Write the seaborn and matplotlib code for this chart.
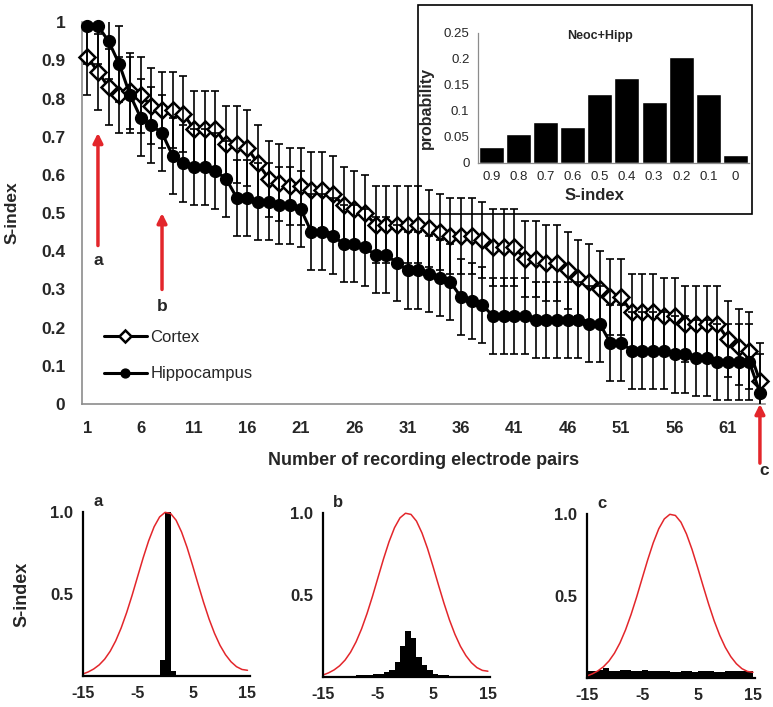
import numpy as np
import matplotlib
matplotlib.use('Agg')
import matplotlib.pyplot as plt
from matplotlib.patches import Rectangle
import seaborn as sns

# main panel: S-index per recording electrode pair
pairs = list(range(1, 65))
cortex = [0.91, 0.87, 0.83, 0.81, 0.82, 0.81, 0.78, 0.77, 0.77, 0.76,
          0.72, 0.72, 0.72, 0.68, 0.68, 0.67, 0.63, 0.59, 0.58, 0.57,
          0.57, 0.56, 0.56, 0.55, 0.52, 0.51, 0.50, 0.47, 0.47, 0.47,
          0.47, 0.47, 0.46, 0.45, 0.44, 0.44, 0.44, 0.43, 0.41, 0.41,
          0.41, 0.38, 0.38, 0.37, 0.37, 0.35, 0.33, 0.32, 0.30, 0.28,
          0.28, 0.24, 0.24, 0.24, 0.23, 0.23, 0.21, 0.21, 0.21, 0.21,
          0.17, 0.15, 0.14, 0.06]
hippocampus = [0.99, 0.99, 0.95, 0.89, 0.81, 0.75, 0.73, 0.71, 0.65, 0.63,
               0.62, 0.62, 0.61, 0.59, 0.54, 0.54, 0.53, 0.53, 0.52, 0.52,
               0.51, 0.45, 0.45, 0.44, 0.42, 0.42, 0.41, 0.39, 0.39, 0.37,
               0.35, 0.35, 0.34, 0.33, 0.32, 0.28, 0.27, 0.26, 0.23, 0.23,
               0.23, 0.23, 0.22, 0.22, 0.22, 0.22, 0.22, 0.21, 0.21, 0.16,
               0.16, 0.14, 0.14, 0.14, 0.14, 0.13, 0.13, 0.12, 0.12, 0.11,
               0.11, 0.11, 0.11, 0.03]
cortex_err = [0.10, 0.10, 0.10, 0.10, 0.10, 0.10, 0.10, 0.10, 0.10, 0.10,
              0.10, 0.10, 0.10, 0.10, 0.10, 0.10, 0.10, 0.10, 0.10, 0.10,
              0.10, 0.10, 0.10, 0.10, 0.10, 0.10, 0.10, 0.10, 0.10, 0.10,
              0.10, 0.10, 0.10, 0.10, 0.10, 0.10, 0.10, 0.10, 0.10, 0.10,
              0.10, 0.10, 0.10, 0.10, 0.10, 0.10, 0.10, 0.10, 0.10, 0.10,
              0.10, 0.10, 0.10, 0.10, 0.10, 0.10, 0.10, 0.10, 0.10, 0.10,
              0.10, 0.10, 0.10, 0.10]
hippocampus_err = [0.10, 0.10, 0.10, 0.10, 0.10, 0.10, 0.10, 0.10, 0.10, 0.10,
                   0.10, 0.10, 0.10, 0.10, 0.10, 0.10, 0.10, 0.10, 0.10, 0.10,
                   0.10, 0.10, 0.10, 0.10, 0.10, 0.10, 0.10, 0.10, 0.10, 0.10,
                   0.10, 0.10, 0.10, 0.10, 0.10, 0.10, 0.10, 0.10, 0.10, 0.10,
                   0.10, 0.10, 0.10, 0.10, 0.10, 0.10, 0.10, 0.10, 0.10, 0.10,
                   0.10, 0.10, 0.10, 0.10, 0.10, 0.10, 0.10, 0.10, 0.10, 0.10,
                   0.10, 0.10, 0.10, 0.10]

# inset: distribution of S-index
inset_labels = ['0.9', '0.8', '0.7', '0.6', '0.5', '0.4', '0.3', '0.2', '0.1', '0']
inset_prob = [0.031, 0.055, 0.078, 0.070, 0.133, 0.164, 0.117, 0.203, 0.133, 0.016]

# bottom panels: reference curve and example histograms
lag = [-15, -14, -13, -12, -11, -10, -9, -8, -7, -6, -5, -4, -3, -2, -1, 0,
       1, 2, 3, 4, 5, 6, 7, 8, 9, 10, 11, 12, 13, 14, 15]
ref_curve = [0.012, 0.025, 0.043, 0.068, 0.103, 0.151, 0.214, 0.293, 0.387, 0.493,
             0.607, 0.720, 0.824, 0.910, 0.970, 0.998, 0.991, 0.950, 0.878, 0.784,
             0.675, 0.561, 0.450, 0.348, 0.260, 0.187, 0.130, 0.087, 0.057, 0.040,
             0.035]
bin_centers = [-14.5, -13.5, -12.5, -11.5, -10.5, -9.5, -8.5, -7.5, -6.5, -5.5,
               -4.5, -3.5, -2.5, -1.5, -0.5, 0.5, 1.5, 2.5, 3.5, 4.5,
               5.5, 6.5, 7.5, 8.5, 9.5, 10.5, 11.5, 12.5, 13.5, 14.5]
hist_a = [0.004, 0.006, 0.003, 0.003, 0.003, 0.006, 0.003, 0.002, 0.002, 0.002,
          0.002, 0.002, 0.003, 0.006, 0.10, 1.00, 0.03, 0.004, 0.002, 0.002,
          0.002, 0.002, 0.002, 0.002, 0.002, 0.002, 0.002, 0.002, 0.002, 0.002]
hist_b = [0.008, 0.008, 0.007, 0.008, 0.008, 0.008, 0.009, 0.010, 0.012, 0.015,
          0.020, 0.030, 0.040, 0.090, 0.190, 0.280, 0.235, 0.120, 0.070, 0.040,
          0.020, 0.012, 0.010, 0.008, 0.008, 0.008, 0.007, 0.008, 0.008, 0.008]
hist_c = [0.040, 0.045, 0.050, 0.060, 0.045, 0.045, 0.050, 0.050, 0.045, 0.045,
          0.050, 0.045, 0.040, 0.040, 0.040, 0.035, 0.035, 0.040, 0.040, 0.035,
          0.040, 0.045, 0.040, 0.035, 0.035, 0.040, 0.045, 0.040, 0.045, 0.040]

sns.set_style('white')
plt.rcParams['font.family'] = ['Liberation Sans', 'DejaVu Sans']

GRAY = '#8c8c8c'
RED = '#e3262b'

fig = plt.figure(figsize=(7.73, 7.07), dpi=100)

# ---------------- main panel ----------------
ax = fig.add_axes([0.106, 0.4286, 0.884, 0.540])
sns.lineplot(x=pairs, y=cortex, ax=ax, color='black', lw=2.2, marker='D', markersize=8,
             markerfacecolor='white', markeredgecolor='black', markeredgewidth=1.8,
             label='Cortex', clip_on=False, zorder=3)
sns.lineplot(x=pairs, y=hippocampus, ax=ax, color='black', lw=2.2, marker='o', markersize=8.5,
             markerfacecolor='black', markeredgecolor='black', markeredgewidth=1,
             label='Hippocampus', clip_on=False, zorder=3)
ax.errorbar(pairs, cortex, yerr=cortex_err, fmt='none', ecolor='black',
            elinewidth=1.2, capsize=3, capthick=1.2, zorder=4)
ax.errorbar(pairs, hippocampus, yerr=hippocampus_err, fmt='none', ecolor='black',
            elinewidth=1.2, capsize=3, capthick=1.2, zorder=4)

ax.set_xlim(0.5, 64.5)
ax.set_ylim(0, 1)
ax.set_xticks(range(1, 65, 5))
ax.set_xticklabels([str(v) for v in range(1, 65, 5)], fontsize=12, fontweight='bold')
ax.set_xticks(np.arange(0.5, 65, 1), minor=True)
ax.tick_params(axis='x', which='major', length=0, pad=12)
ax.tick_params(axis='x', which='minor', length=5, color=GRAY, width=1, direction='out')
yt = [0, 0.1, 0.2, 0.3, 0.4, 0.5, 0.6, 0.7, 0.8, 0.9, 1.0]
ax.set_yticks(yt)
ax.set_yticklabels(['0', '0.1', '0.2', '0.3', '0.4', '0.5', '0.6', '0.7', '0.8', '0.9', '1'],
                   fontsize=12.5, fontweight='bold')
ax.tick_params(axis='y', length=5, color=GRAY, width=1, direction='out', pad=7)
sns.despine(ax=ax)
for s in ['left', 'bottom']:
    ax.spines[s].set_color(GRAY)
    ax.spines[s].set_linewidth(1.2)
ax.set_ylabel('S-index', fontsize=12.5, fontweight='bold')
ax.yaxis.set_label_coords(-0.091, 0.5)
ax.set_xlabel('Number of recording electrode pairs', fontsize=13, fontweight='bold')
ax.xaxis.set_label_coords(0.5, -0.125)

leg = ax.legend(loc='lower left', bbox_to_anchor=(0.01, 0.02), frameon=False, fontsize=12,
                handlelength=2.6, labelspacing=1.3, handletextpad=0.2, markerscale=0.75)

arrow_kw = dict(arrowstyle='-|>', color=RED, lw=2.5, mutation_scale=14, shrinkA=0, shrinkB=0)
ax.annotate('', xy=(2, 0.71), xytext=(2, 0.415), arrowprops=arrow_kw)
ax.text(2, 0.375, 'a', ha='center', va='center', fontsize=12.5, fontweight='bold')
ax.annotate('', xy=(8, 0.50), xytext=(8, 0.30), arrowprops=arrow_kw)
ax.text(8, 0.255, 'b', ha='center', va='center', fontsize=12.5, fontweight='bold')
ax.annotate('', xy=(64, 0.0), xytext=(64, -0.155), arrowprops=arrow_kw,
            annotation_clip=False)
ax.text(64.4, -0.175, 'c', ha='center', va='center', fontsize=12.5, fontweight='bold')

# ---------------- inset ----------------
fig.patches.append(Rectangle((0.541, 0.697), 0.432, 0.296, transform=fig.transFigure,
                             fill=False, ec='black', lw=1.2))
iax = fig.add_axes([0.618, 0.7695, 0.351, 0.184])
sns.barplot(x=inset_labels, y=inset_prob, ax=iax, color='black', width=0.92, saturation=1)
iax.set_xlim(-0.5, 9.5)
iax.set_ylim(0, 0.25)
iax.set_yticks([0, 0.05, 0.1, 0.15, 0.2, 0.25])
iax.set_yticklabels(['0', '0.05', '0.1', '0.15', '0.2', '0.25'], fontsize=9.5)
iax.tick_params(axis='y', length=3, color=GRAY, width=0.8, direction='out', pad=3)
iax.tick_params(axis='x', which='major', length=0, pad=6, labelsize=9.5)
iax.set_xticks(np.arange(-0.5, 10, 1), minor=True)
iax.tick_params(axis='x', which='minor', length=3, color=GRAY, width=0.8, direction='out')
sns.despine(ax=iax)
for s in ['left', 'bottom']:
    iax.spines[s].set_color(GRAY)
    iax.spines[s].set_linewidth(0.9)
iax.set_ylabel('probability', fontsize=11.5, fontweight='bold')
iax.yaxis.set_label_coords(-0.16, 0.42)
iax.set_xlabel('S-index', fontsize=12, fontweight='bold')
iax.xaxis.set_label_coords(0.43, -0.19)
iax.text(0.45, 0.975, 'Neoc+Hipp', transform=iax.transAxes, ha='center', va='center',
         fontsize=9, fontweight='bold')

# ---------------- bottom panels ----------------
panels = [([0.107, 0.0438, 0.216, 0.232], hist_a, 'a'),
          ([0.418, 0.0425, 0.216, 0.232], hist_b, 'b'),
          ([0.759, 0.0410, 0.218, 0.232], hist_c, 'c')]
for i, (pos, hist, letter) in enumerate(panels):
    bx = fig.add_axes(pos)
    sns.histplot(x=bin_centers, weights=hist, bins=30, binrange=(-15, 15), ax=bx,
                 color='black', alpha=1, linewidth=0)
    sns.lineplot(x=lag, y=ref_curve, ax=bx, color=RED, lw=1.1, clip_on=False)
    bx.set_xlim(-15, 15.4)
    bx.set_ylim(0, 1.0)
    bx.set_xticks([-15, -10, -5, 0, 5, 10, 15])
    bx.set_xticklabels(['-15', '', '-5', '', '5', '', '15'], fontsize=11.5, fontweight='bold')
    bx.set_yticks([0, 0.25, 0.5, 0.75, 1.0])
    bx.set_yticklabels(['', '', '0.5', '', '1.0'], fontsize=12, fontweight='bold')
    bx.tick_params(axis='both', length=4, width=1.6, color='black', direction='out', pad=3)
    sns.despine(ax=bx)
    for s in ['left', 'bottom']:
        bx.spines[s].set_color('black')
        bx.spines[s].set_linewidth(1.6)
    bx.set_xlabel('')
    bx.set_ylabel('S-index' if i == 0 else '', fontsize=13, fontweight='bold')
    bx.yaxis.set_label_coords(-0.31, 0.5)
    bx.text(-12.2, 1.065, letter, ha='center', va='center', fontsize=12, fontweight='bold',
            clip_on=False)

fig.savefig('out.png', dpi=100)
